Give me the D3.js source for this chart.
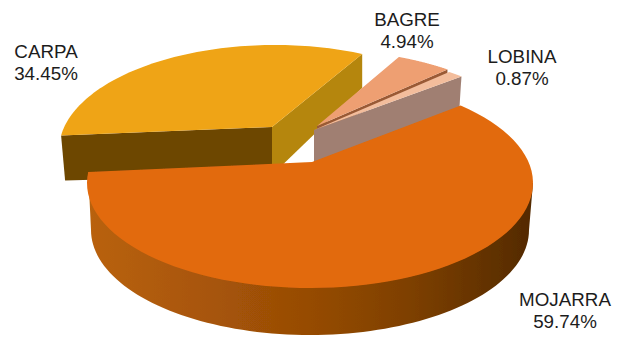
<!DOCTYPE html>
<html><head><meta charset="utf-8">
<script src="https://cdn.jsdelivr.net/npm/d3@7/dist/d3.min.js"></script>
<style>html,body{margin:0;background:#fff}svg{display:block}text{font-family:"Liberation Sans",Arial,sans-serif;font-size:18.8px;fill:#1c1c1c;text-anchor:middle}</style>
</head><body><svg id="c" width="625" height="337"></svg>
<script>
const categories = ["MOJARRA","CARPA","BAGRE","LOBINA"];
const values = [59.74,34.45,4.94,0.87];
const valueLabels = ["59.74%","34.45%","4.94%","0.87%"];
const topColors = ["#E26A0A","#EFA413","#EE9F72","#F3BD9C"];
const startColors = ["#B0600F","#6D4606","#9A5A36","#A07F72"];
const endColors = ["#B0600F","#B5860F","#9A5A36","#A07F72"];

// Perspective layout of the exploded slices: ellipse, apex, rim angle range, depths
const layout = [
 {cx:310,cy:183,rx:223,ry:105,ax:312,ay:162,t0:42.5,t1:276,d0:0,d1:0,dA:33,shift0:0,shift1:0},
 {cx:275,cy:150,rx:216,ry:105,ax:272,ay:127,t0:278,t1:383.8,d0:45,d1:34,dA:48,shift0:4,shift1:0},
 {cx:320,cy:155,rx:220,ry:105,ax:317,ay:126,t0:21,t1:35.4,d0:0,d1:6,dA:6,shift0:0,shift1:0},
 {cx:323,cy:158,rx:220,ry:105,ax:314,ay:130,t0:35,t1:39,d0:0,d1:31,dA:35,shift0:0,shift1:-2}
];
const labelPos = [[565,306],[46,58],[407,26],[522,63]];
const depthMain = {dy:47, rx:219};

const svg = d3.select("#c");
const defs = svg.append("defs");
const f = defs.append("filter").attr("id","soft");
f.append("feGaussianBlur").attr("stdDeviation",0.5);
const g = defs.append("linearGradient").attr("id","mojSide").attr("gradientUnits","userSpaceOnUse")
  .attr("x1",88).attr("x2",533).attr("y1",0).attr("y2",0);
[[0,"#B9620E"],[0.25,"#A95608"],[0.5,"#964B05"],[0.72,"#7E4005"],[1,"#532A03"]].forEach(s=>
  g.append("stop").attr("offset",s[0]).attr("stop-color",s[1]));

const pie = d3.pie().sort(null).value(d=>d).startAngle(0).endAngle(360);
const arcs = pie(values);
const line = d3.line();
const root = svg.append("g").attr("filter","url(#soft)");

function rim(i){
  const L = layout[i], a = arcs[i];
  const sc = d3.scaleLinear().domain([a.startAngle,a.endAngle]).range([L.t0,L.t1]);
  const n = 80;
  return d3.range(n+1).map(k=>{
    const t = sc(a.startAngle+(a.endAngle-a.startAngle)*k/n)*Math.PI/180;
    return [L.cx+L.rx*Math.sin(t), L.cy-L.ry*Math.cos(t)];
  });
}
function topPath(i){ const L=layout[i]; return line([[L.ax,L.ay],...rim(i)])+"Z"; }

function cutFaces(i){
  const L=layout[i], r=rim(i), s=r[0], e=r[r.length-1];
  if(L.d1>0) root.append("path").attr("fill",endColors[i])
    .attr("d",line([[L.ax,L.ay],e,[e[0]+L.shift1,e[1]+L.d1],[L.ax,L.ay+L.dA]])+"Z");
  if(L.d0>0) root.append("path").attr("fill",startColors[i])
    .attr("d",line([[L.ax,L.ay],s,[s[0]+L.shift0,s[1]+L.d0],[L.ax,L.ay+L.dA]])+"Z");
}
[1,2,3].forEach(i=>{
  cutFaces(i);
  root.append("path").attr("fill",topColors[i]).attr("d",topPath(i));
});

// Mojarra outer wall
(function(){
  const L=layout[0];
  const bcy=L.cy+depthMain.dy;
  const n=90;
  const bottom=d3.range(n+1).map(k=>{
    const t=(90+180*k/n)*Math.PI/180;
    return [L.cx+depthMain.rx*Math.sin(t), bcy-L.ry*Math.cos(t)];
  });
  const r=rim(0);
  root.append("path").attr("fill","url(#mojSide)")
    .attr("d",line([[L.cx+L.rx,L.cy],...bottom,r[r.length-1]])+"Z");
  root.append("path").attr("fill",topColors[0]).attr("d",topPath(0));
})();

categories.forEach((c,i)=>{
  const t=svg.append("text").attr("transform",`translate(${labelPos[i][0]},${labelPos[i][1]})`);
  t.append("tspan").attr("x",0).attr("y",0).text(c);
  t.append("tspan").attr("x",0).attr("y",21.5).text(valueLabels[i]);
});
</script></body></html>
